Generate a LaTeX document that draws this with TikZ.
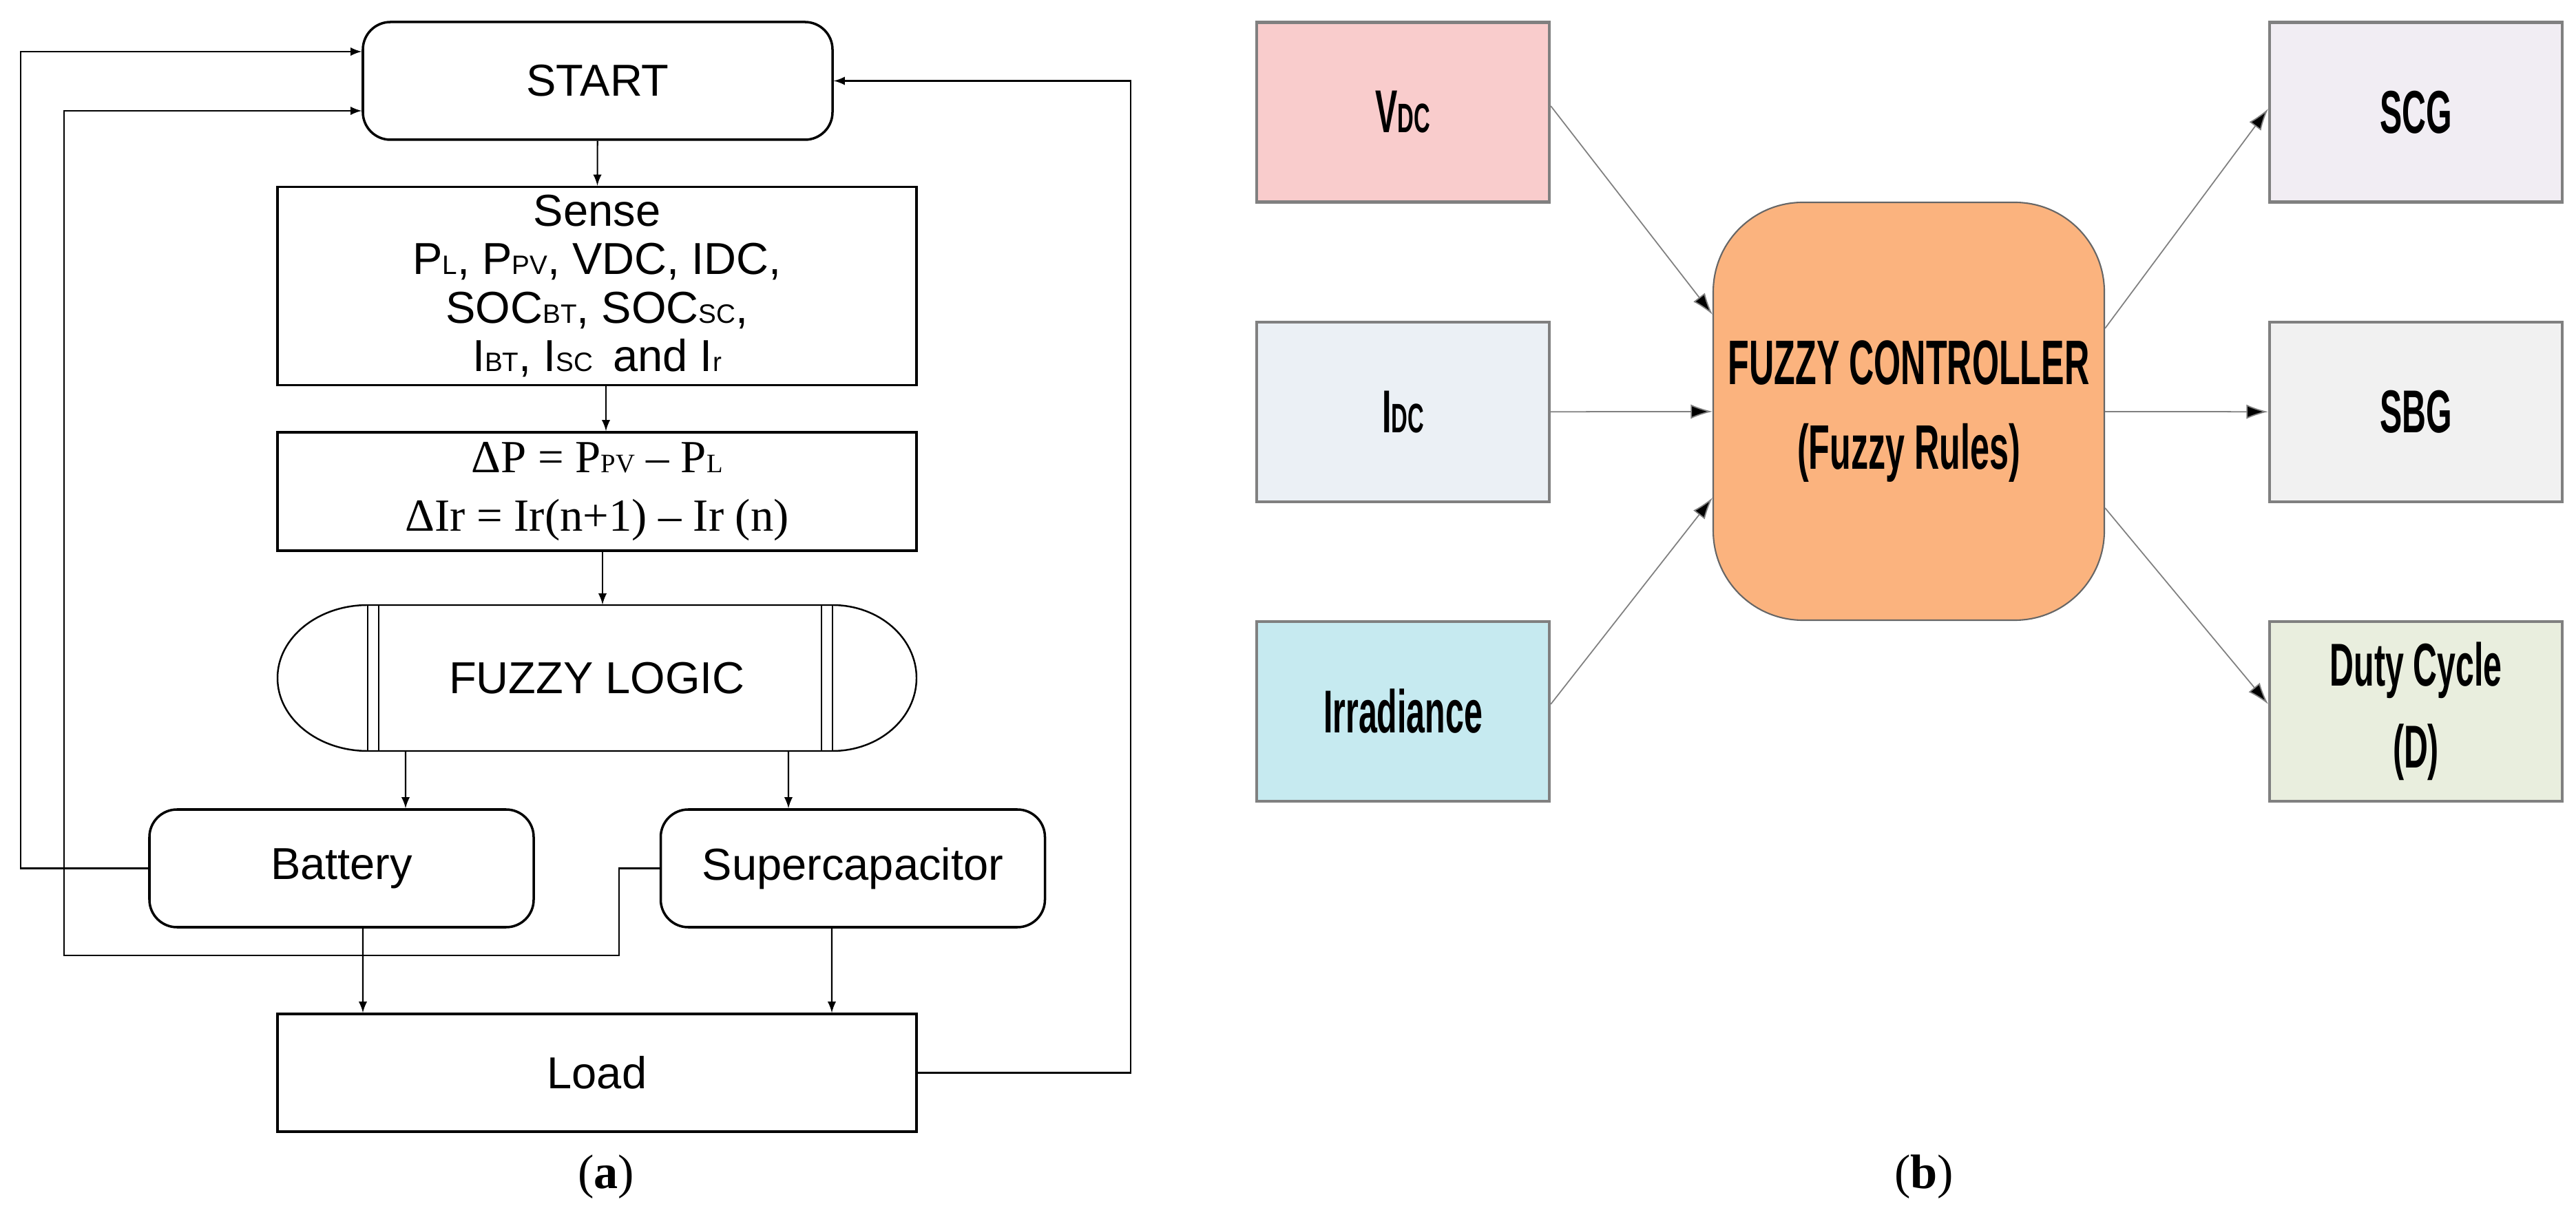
\documentclass[tikz,border=0pt]{standalone}
\usepackage{fontspec}
\setmainfont{Liberation Sans}
\newfontfamily\capfont{Liberation Serif}
\newfontfamily\narrowfont{Liberation Sans}[FakeStretch=0.55]
\usetikzlibrary{arrows,arrows.meta}
\newcommand{\lo}[1]{{\fontsize{11}{11}\selectfont #1}}
\newcommand{\lob}[1]{{\fontsize{17}{17}\selectfont #1}}
\definecolor{vdccol}{HTML}{F9CCCC}
\definecolor{idccol}{HTML}{EBF0F5}
\definecolor{irrcol}{HTML}{C6EAF0}
\definecolor{scgcol}{HTML}{F1EDF3}
\definecolor{sbgcol}{HTML}{F1F1F1}
\definecolor{dutycol}{HTML}{E9EEDE}
\definecolor{ctrlcol}{HTML}{FBB37E}
\tikzset{
  flowbox/.style={draw, line width=1pt, minimum width=9.28cm, align=center, font=\fontsize{18.5}{20}\selectfont},
  rflowbox/.style={flowbox, rounded corners=0.4cm, minimum width=5.58cm, minimum height=1.71cm},
  arr/.style={-latex, line width=0.6pt},
  inbox/.style={draw=gray, line width=1.2pt, minimum width=4.25cm, minimum height=2.61cm, align=center, font=\narrowfont\bfseries\fontsize{25}{34}\selectfont},
  farr/.style={-{Latex[length=9pt,width=6pt,fill=black]}, draw=gray, line width=0.5pt},
}
\begin{document}
\begin{tikzpicture}
\useasboundingbox (0,0) rectangle (37.41,-17.68);
% (a) flow chart
\node[rflowbox, minimum width=6.82cm] (start) at (8.68,-1.175) {START};
\node[flowbox, minimum height=2.55cm] (sense) at (8.67,-4.155) {Sense\\
P\lo{L}, P\lo{PV}, VDC, IDC,\\
SOC\lo{BT}, SOC\lo{SC},\\
I\lo{BT}, I\lo{SC}\, and I\lo{r}};
\node[flowbox, minimum height=1.72cm, font=\capfont\fontsize{19}{24}\selectfont] (delta) at (8.67,-7.14) {ΔP = P\lo{PV} – P\lo{L}\\
ΔIr = Ir(n+1) – Ir (n)};
\node[minimum width=9.28cm, minimum height=2.12cm, font=\fontsize{18.5}{19}\selectfont] (fuzzy) at (8.67,-9.85) {FUZZY LOGIC};
\draw[line width=0.7pt] (5.34,-8.79) -- (12.09,-8.79) arc[start angle=90,end angle=-90,x radius=1.22,y radius=1.06]
  -- (5.34,-10.91) arc[start angle=270,end angle=90,x radius=1.31,y radius=1.06] -- cycle;
\foreach \xl in {5.34,5.50,11.93,12.09}
  \draw[line width=0.6pt] (\xl,-8.79) -- (\xl,-10.91);
\node[rflowbox] (batt) at (4.96,-12.615) {Battery};
\node[rflowbox] (supcap) at (12.385,-12.615) {Supercapacitor};
\node[flowbox, minimum height=1.71cm] (load) at (8.67,-15.585) {Load};
\coordinate (fbA) at (0.30,-0.75);
\coordinate (fbB) at (0.93,-13.88);
\coordinate (fbC) at (8.99,-12.615);
\coordinate (fbD) at (16.42,-1.175);
\draw[arr] (start) -- (sense);
\draw[arr] ([xshift=0.13cm]sense.south) -- ([xshift=0.13cm]delta.north);
\draw[arr] ([xshift=0.08cm]delta.south) -- ([xshift=0.08cm]fuzzy.north);
\draw[arr] ([xshift=-2.78cm]fuzzy.south) -- ([xshift=0.93cm]batt.north);
\draw[arr] ([xshift=2.78cm]fuzzy.south) -- ([xshift=-0.935cm]supcap.north);
\draw[arr] ([xshift=0.31cm]batt.south) -- ([xshift=-3.40cm]load.north);
\draw[arr] ([xshift=-0.305cm]supcap.south) -- ([xshift=3.41cm]load.north);
\draw[arr] (batt.west) -| (fbA) -- ([yshift=0.425cm]start.west);
\draw[arr] (supcap.west) -- (fbC) |- (fbB) |- ([yshift=-0.435cm]start.west);
\draw[arr] (load.east) -| (fbD) -- (start.east);
\node[font=\capfont\fontsize{20}{20}\selectfont] (capa) at (8.80,-17.10) {(\textbf{a})};
% (b) fuzzy controller
\node[inbox, fill=vdccol] (vdc) at (20.375,-1.63) {V\lob{DC}};
\node[inbox, fill=idccol] (idc) at (20.375,-5.985) {I\lob{DC}};
\node[inbox, fill=irrcol] (irr) at (20.375,-10.335) {Irradiance};
\node[inbox, fill=scgcol] (scg) at (35.085,-1.63) {SCG};
\node[inbox, fill=sbgcol] (sbg) at (35.085,-5.985) {SBG};
\node[inbox, fill=dutycol] (duty) at (35.085,-10.335) {Duty Cycle\\(D)};
\node[draw=gray!80!black, fill=ctrlcol, line width=0.6pt, rounded corners=1.3cm, minimum width=5.68cm, minimum height=6.07cm, align=center, font=\narrowfont\bfseries\fontsize{26}{35}\selectfont] (ctrl) at (27.72,-5.975) {FUZZY CONTROLLER\\(Fuzzy Rules)};
\draw[farr] ([yshift=0.09cm]vdc.east) -- ([yshift=1.405cm]ctrl.west);
\draw[farr] (idc) -- (ctrl);
\draw[farr] ([yshift=0.105cm]irr.east) -- ([yshift=-1.255cm]ctrl.west);
\draw[farr] ([yshift=1.205cm]ctrl.east) -- ([yshift=0.05cm]scg.west);
\draw[farr] (ctrl) -- (sbg);
\draw[farr] ([yshift=-1.405cm]ctrl.east) -- ([yshift=0.105cm]duty.west);
\node[font=\capfont\fontsize{20}{20}\selectfont] (capb) at (27.94,-17.10) {(\textbf{b})};
\end{tikzpicture}
\end{document}
